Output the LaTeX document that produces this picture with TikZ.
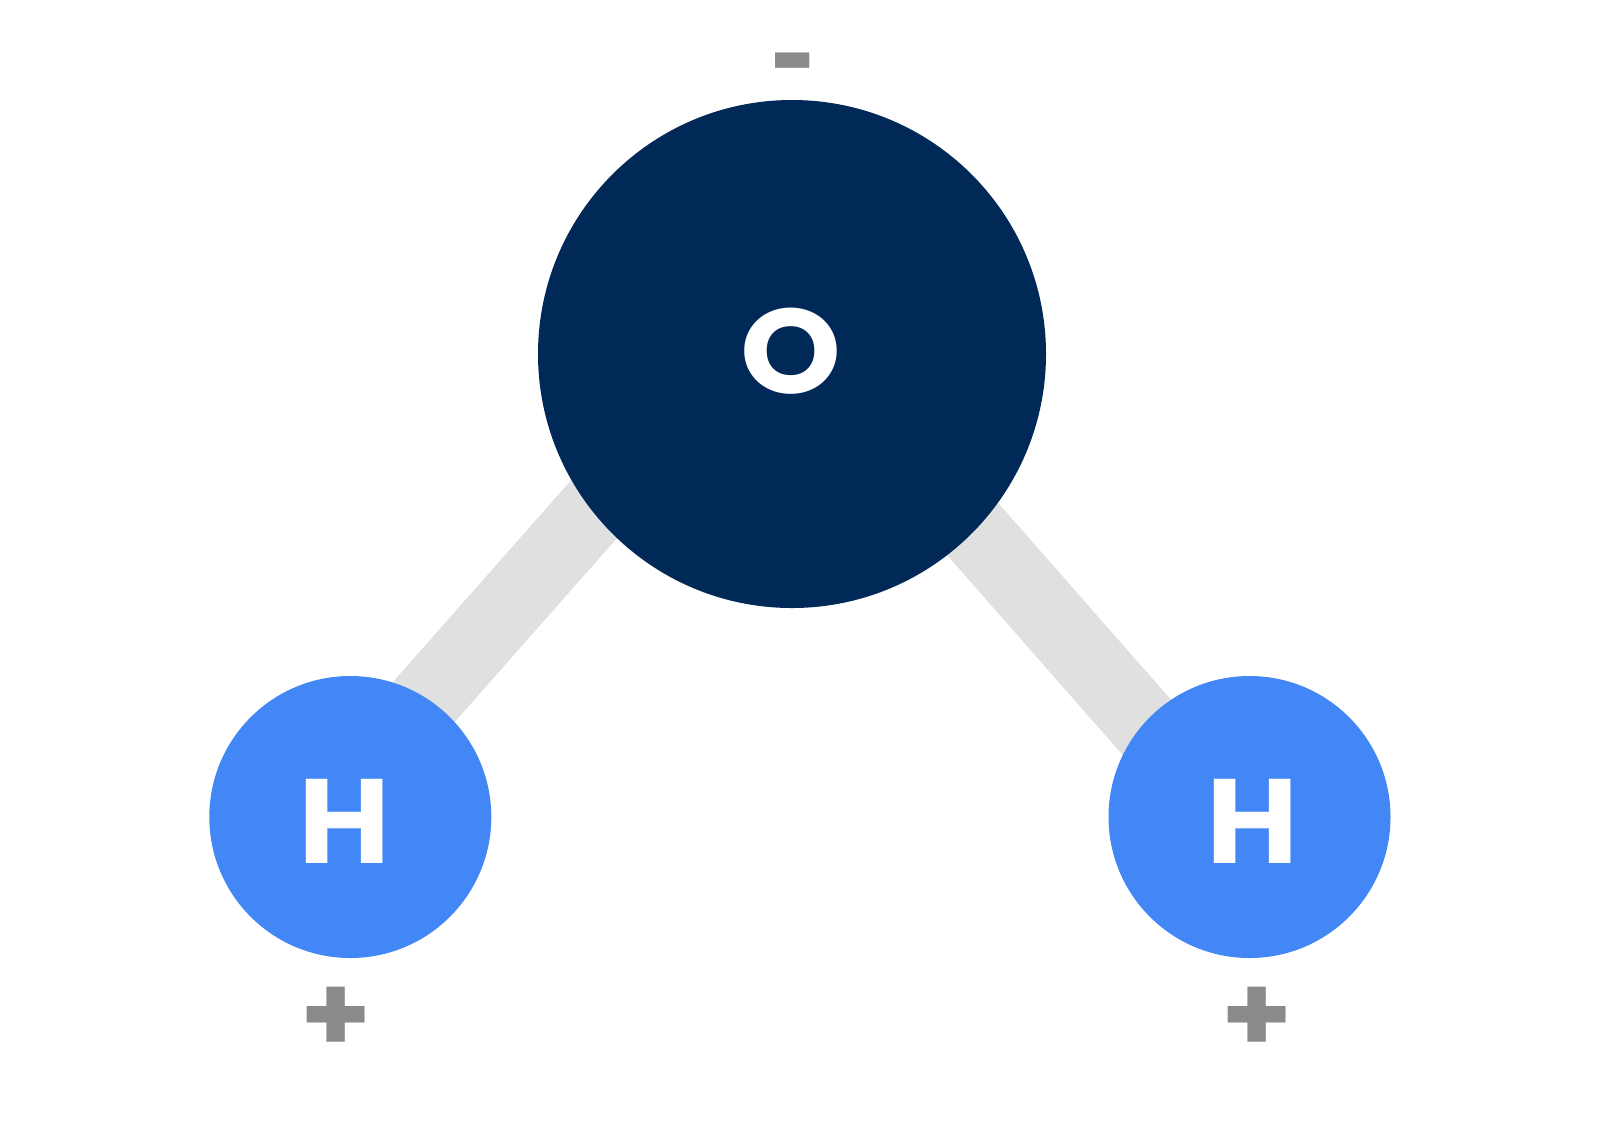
\documentclass[tikz,border=0pt]{standalone}
\usepackage{fontspec}
\setmainfont{Poppins}
\usetikzlibrary{backgrounds}
\definecolor{oxygen}{HTML}{012957}
\definecolor{hydrogen}{HTML}{4287F5}
\definecolor{bondgray}{HTML}{E0E0E0}
\definecolor{chargegray}{HTML}{8A8A8A}
\tikzset{
  atomO/.style={circle,fill=oxygen,inner sep=0pt,minimum size=254pt},
  atomH/.style={circle,fill=hydrogen,inner sep=0pt,minimum size=141pt},
  letter/.style={text=white,inner sep=0pt,font=\fontsize{60pt}{60pt}\selectfont\bfseries},
  charge/.style={text=chargegray,inner sep=0pt,font=\fontsize{54pt}{54pt}\selectfont\bfseries},
  bond/.style={draw=bondgray,line width=36.4pt}
}
\begin{document}
\begin{tikzpicture}[x=0.5pt,y=-0.5pt]
  \useasboundingbox (0,0) rectangle (1600,1136);
  \node [atomO] (o) at (792,354) {};
  \node [atomH] (h1) at (350.3,817) {};
  \node [atomH] (h2) at (1249.5,817) {};
  \node [letter] (lo) at (790.8,350.8) {\scalebox{1.07}[1]{O}};
  \node [letter] (lh1) at (344.6,821.5) {\scalebox{1.05}[1]{H}};
  \node [letter] (lh2) at (1252.5,821.5) {\scalebox{1.05}[1]{H}};
  \node [charge] (minus) at (794,76) {\scalebox{0.72}[1]{-}};
  \node [charge] (plus1) at (336,1020) {\scalebox{1.05}[1]{+}};
  \node [charge] (plus2) at (1257,1020) {\scalebox{1.05}[1]{+}};
  \begin{pgfonlayer}{background}
    \draw [bond] ([xshift=-30.5pt]o.center) -- ([xshift=-14pt]h1.center);
    \draw [bond] ([xshift=13.5pt]o.center) -- ([xshift=-12pt]h2.center);
  \end{pgfonlayer}
\end{tikzpicture}
\end{document}
